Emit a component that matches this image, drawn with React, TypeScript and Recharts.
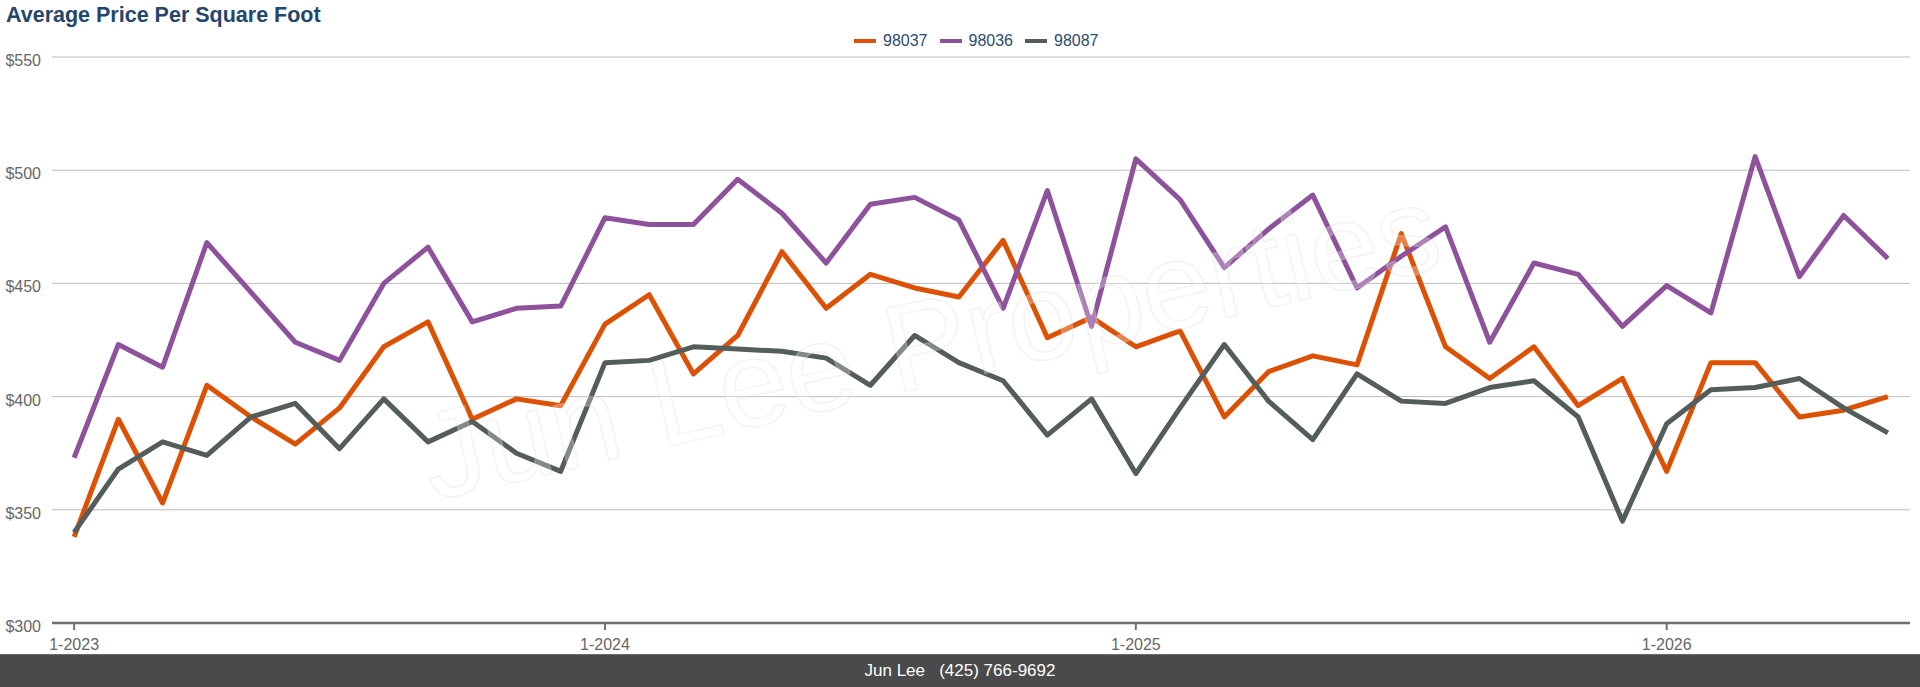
import { CartesianGrid, Line, LineChart, XAxis, YAxis } from "recharts";

const months = [
  "1-2023", "2-2023", "3-2023", "4-2023", "5-2023", "6-2023",
  "7-2023", "8-2023", "9-2023", "10-2023", "11-2023", "12-2023",
  "1-2024", "2-2024", "3-2024", "4-2024", "5-2024", "6-2024",
  "7-2024", "8-2024", "9-2024", "10-2024", "11-2024", "12-2024",
  "1-2025", "2-2025", "3-2025", "4-2025", "5-2025", "6-2025",
  "7-2025", "8-2025", "9-2025", "10-2025", "11-2025", "12-2025",
  "1-2026", "2-2026", "3-2026", "4-2026", "5-2026", "6-2026",
];

const zip98037 = [
  338, 390, 353, 405, 391, 379, 395, 422, 433, 390, 399, 396,
  432, 445, 410, 427, 464, 439, 454, 448, 444, 469, 426, 435,
  422, 429, 391, 411, 418, 414, 472, 422, 408, 422, 396, 408,
  367, 415, 415, 391, 394, 400,
];

const zip98036 = [
  373, 423, 413, 468, 446, 424, 416, 450, 466, 433, 439, 440,
  479, 476, 476, 496, 481, 459, 485, 488, 478, 439, 491, 431,
  505, 487, 457, 474, 489, 448, 462, 475, 424, 459, 454, 431,
  449, 437, 506, 453, 480, 461,
];

const zip98087 = [
  340, 368, 380, 374, 391, 397, 377, 399, 380, 389, 375, 367,
  415, 416, 422, 421, 420, 417, 405, 427, 415, 407, 383, 399,
  366, 395, 423, 398, 381, 410, 398, 397, 404, 407, 391, 345,
  388, 403, 404, 408, 395, 384,
];

const yTicks = [300, 350, 400, 450, 500, 550];
const xTickLabels = ["1-2023", "1-2024", "1-2025", "1-2026"];

const series = [
  { key: "98037", color: "#DD5105", values: zip98037 },
  { key: "98036", color: "#8E519B", values: zip98036 },
  { key: "98087", color: "#535D5B", values: zip98087 },
];

const data = months.map((month, idx) => {
  const row: Record<string, number | string> = { idx, month };
  series.forEach((s) => {
    row[s.key] = s.values[idx];
  });
  return row;
});

const xTicks = xTickLabels.map((label) => months.indexOf(label));

const FONT = '"Liberation Sans", Arial, Helvetica, sans-serif';

function YTick({ x, y, payload }: any) {
  return (
    <text x={x} y={y + 9} textAnchor="end" fill="#666" fontSize={16} fontFamily={FONT}>
      ${payload.value}
    </text>
  );
}

function XTick({ x, y, payload }: any) {
  return (
    <text x={x} y={y + 20} textAnchor="middle" fill="#666" fontSize={16} fontFamily={FONT}>
      {months[payload.value]}
    </text>
  );
}

export default function App() {
  return (
    <div
      style={{
        position: "relative",
        width: 1920,
        height: 687,
        background: "#fff",
        fontFamily: FONT,
        overflow: "hidden",
      }}
    >
      <style>{"body{margin:0}"}</style>
      <div
        style={{
          position: "absolute",
          left: 6,
          top: 3,
          fontSize: 21.5,
          fontWeight: "bold",
          color: "#24466C",
        }}
      >
        Average Price Per Square Foot
      </div>

      <div
        style={{
          position: "absolute",
          left: 854,
          top: 31,
          height: 20,
          display: "flex",
          alignItems: "center",
          fontSize: 16,
          color: "#2B4A6E",
        }}
      >
        {series.map((s) => (
          <div key={s.key} style={{ display: "flex", alignItems: "center", marginRight: 12 }}>
            <span style={{ width: 22, height: 4, background: s.color, marginRight: 7 }} />
            <span>{s.key}</span>
          </div>
        ))}
      </div>

      <LineChart
        width={1920}
        height={654}
        data={data}
        margin={{ top: 57, right: 10, bottom: 0, left: 0 }}
      >
        <CartesianGrid vertical={false} stroke="#bdbdbd" strokeWidth={1} />
        <XAxis
          type="number"
          dataKey="idx"
          domain={[-0.5, months.length - 0.5]}
          ticks={xTicks}
          interval={0}
          height={31}
          tickSize={7}
          tickMargin={0}
          axisLine={{ stroke: "#707070", strokeWidth: 2.5 }}
          tickLine={{ stroke: "#707070", strokeWidth: 2 }}
          tick={<XTick />}
        />
        <YAxis
          domain={[300, 550]}
          ticks={yTicks}
          interval={0}
          width={52}
          axisLine={false}
          tickLine={false}
          tickSize={6}
          tickMargin={5}
          tick={<YTick />}
        />
        {series.map((s) => (
          <Line
            key={s.key}
            type="linear"
            dataKey={s.key}
            stroke={s.color}
            strokeWidth={5}
            strokeLinejoin="round"
            dot={false}
            activeDot={false}
            isAnimationActive={false}
          />
        ))}
      </LineChart>

      <svg
        width={1920}
        height={654}
        style={{ position: "absolute", left: 0, top: 0, pointerEvents: "none" }}
      >
        <text
          x={930}
          y={385}
          textAnchor="middle"
          fontSize={124}
          fontFamily={FONT}
          fill="rgba(255,255,255,0.28)"
          stroke="rgba(215,215,215,0.3)"
          strokeWidth={1.5}
          transform="rotate(-13 930 343)"
        >
          Jun Lee Properties
        </text>
      </svg>

      <div
        style={{
          position: "absolute",
          left: 0,
          top: 654,
          width: 1920,
          height: 33,
          background: "#4A4A4A",
          borderTop: "1px solid #6a6a6a",
          boxSizing: "border-box",
          color: "#fff",
          fontSize: 17,
          display: "flex",
          alignItems: "center",
          justifyContent: "center",
          whiteSpace: "pre",
        }}
      >
        {"Jun Lee   (425) 766-9692"}
      </div>
    </div>
  );
}
